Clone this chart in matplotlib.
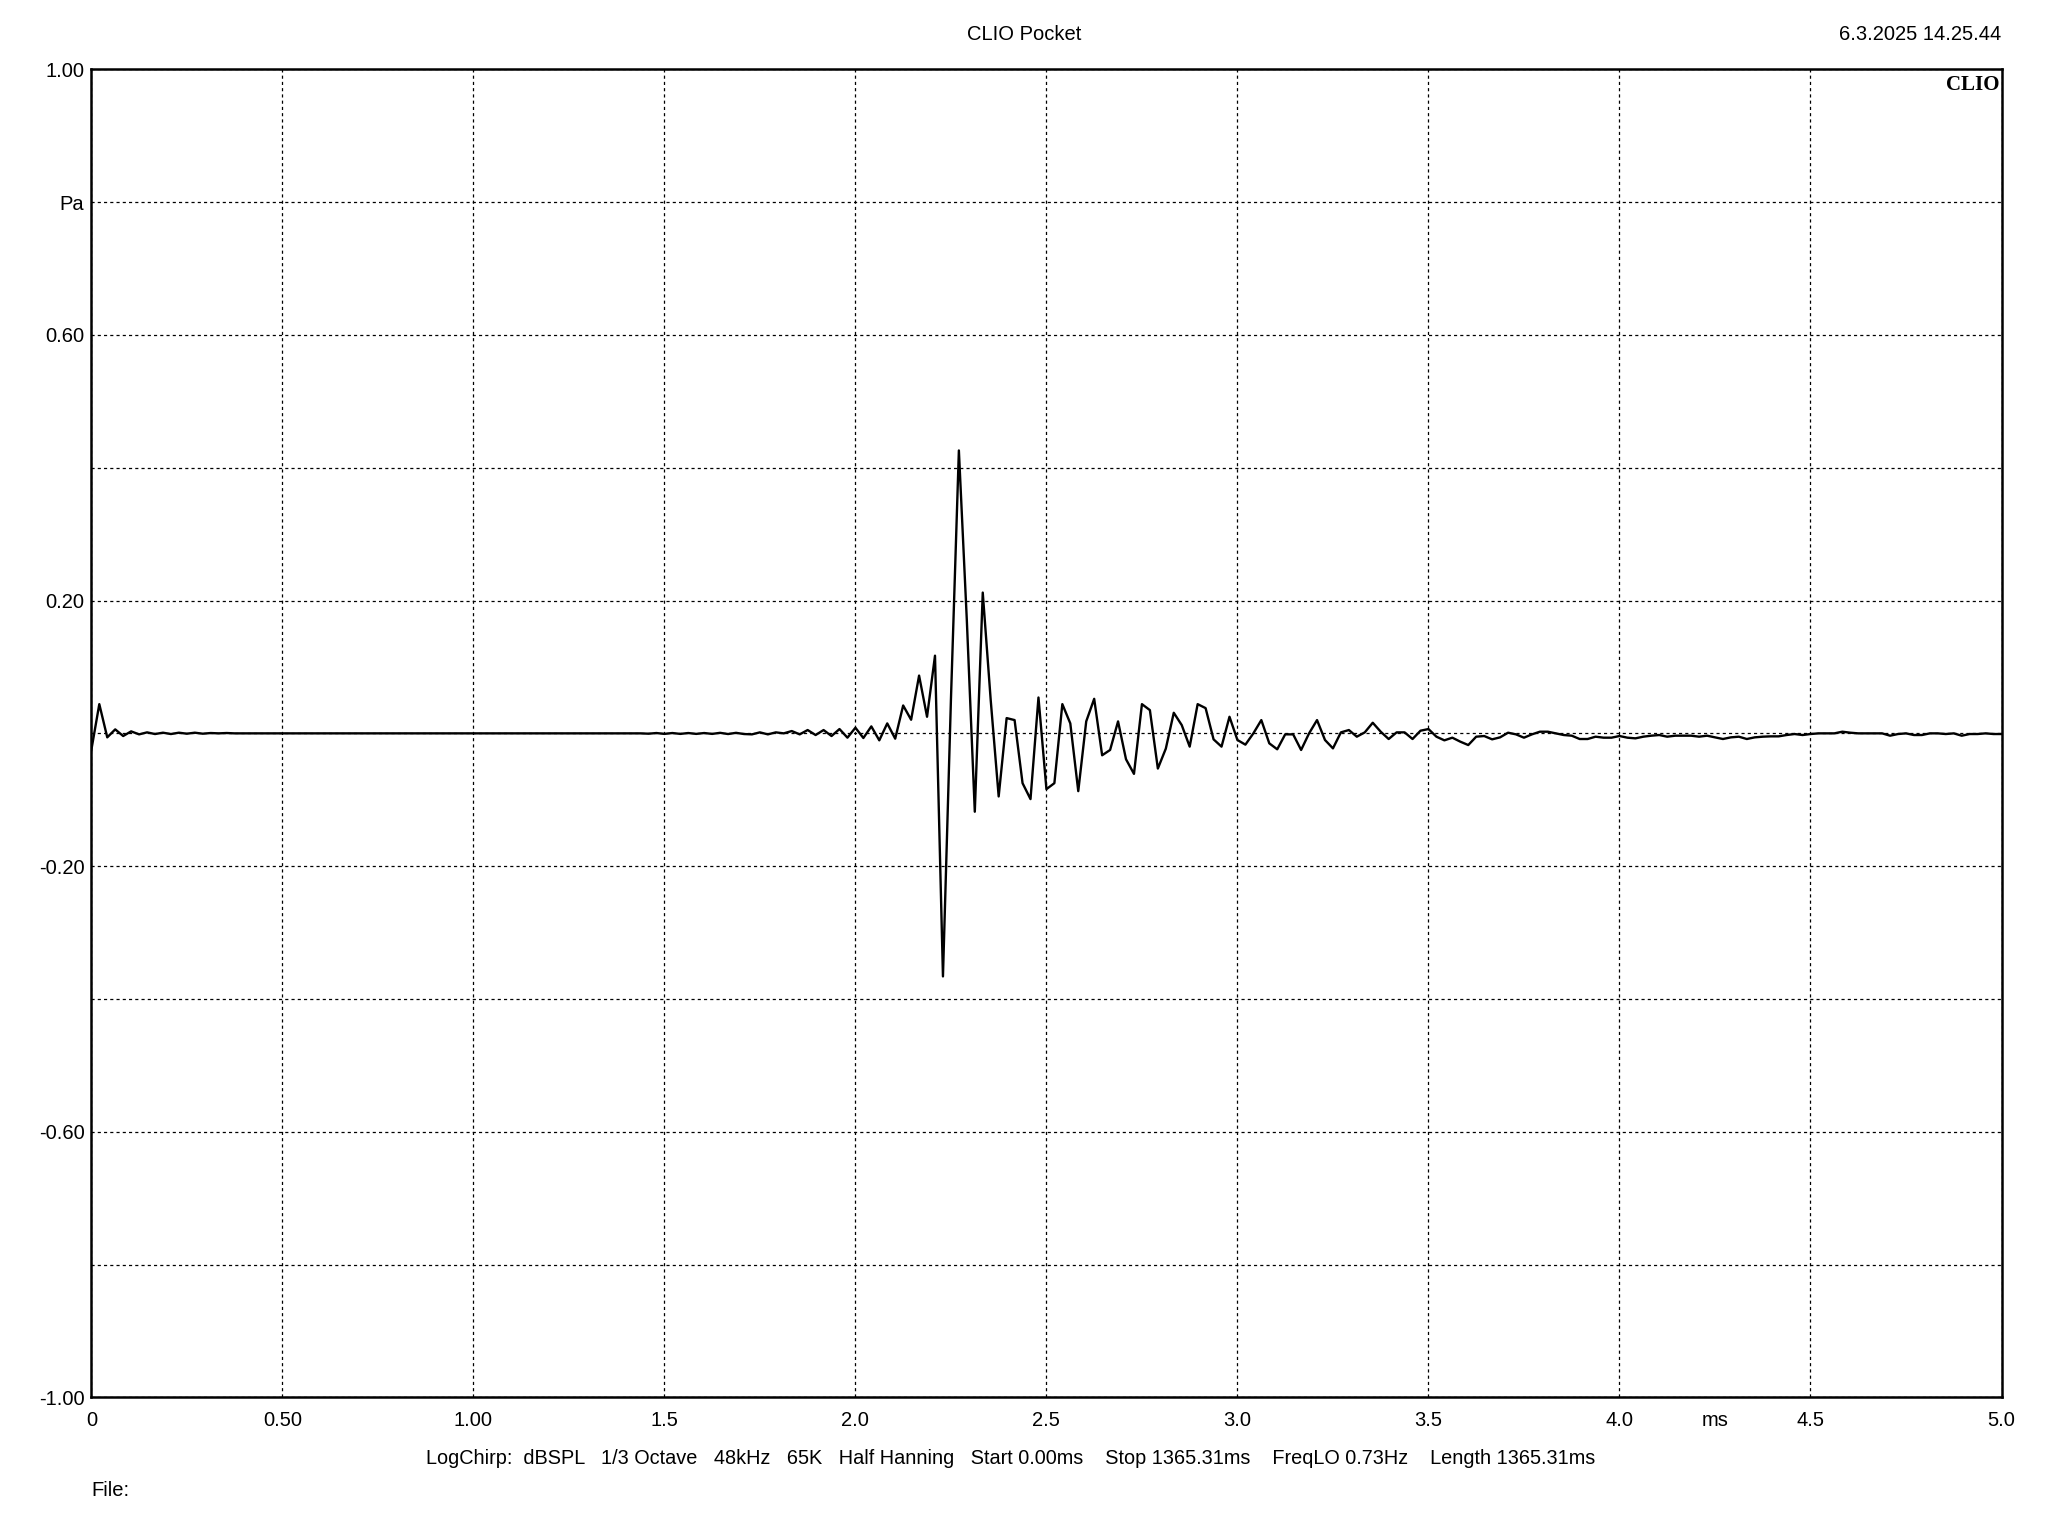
import numpy as np
import matplotlib
matplotlib.use("Agg")
import matplotlib.pyplot as plt

# impulse response, one value per sample at 48 kHz (Pa)
sample_rate_khz = 48.0
pressure = [
    -0.025, 0.044, -0.006, 0.006, -0.004, 0.003, -0.0015, 0.0015, -0.001, 0.001,
    -0.001, 0.001, -0.0005, 0.001, -0.0005, 0.0005, 0.0, 0.0005, 0.0, 0.0,
    0.0, 0.0, 0.0, 0.0, 0.0, 0.0, 0.0, 0.0, 0.0, 0.0,
    0.0, 0.0, 0.0, 0.0, 0.0, 0.0, 0.0, 0.0, 0.0, 0.0,
    0.0, 0.0, 0.0, 0.0, 0.0, 0.0, 0.0, 0.0, 0.0, 0.0,
    0.0, 0.0, 0.0, 0.0, 0.0, 0.0, 0.0, 0.0, 0.0, 0.0,
    0.0, 0.0, 0.0, 0.0, 0.0, 0.0, 0.0, 0.0, 0.0, 0.0,
    -0.0005, 0.0005, -0.0008, 0.0005, -0.0008, 0.0005, -0.0008, 0.0005, -0.0008, 0.0008,
    -0.001, 0.0008, -0.001, -0.0015, 0.0015, -0.0015, 0.0015, 0.0, 0.0035, -0.0015,
    0.005, -0.0025, 0.005, -0.004, 0.0065, -0.0065, 0.0085, -0.007, 0.0105, -0.0105,
    0.015, -0.008, 0.042, 0.0205, 0.087, 0.025, 0.117, -0.366, 0.05, 0.426,
    0.17, -0.118, 0.212, 0.05, -0.095, 0.023, 0.02, -0.075, -0.099, 0.054,
    -0.084, -0.075, 0.044, 0.015, -0.087, 0.018, 0.052, -0.033, -0.025, 0.018,
    -0.039, -0.061, 0.044, 0.035, -0.053, -0.023, 0.031, 0.0125, -0.020, 0.044,
    0.038, -0.009, -0.020, 0.025, -0.010, -0.017, 0.0, 0.020, -0.015, -0.024,
    -0.0015, -0.0015, -0.025, 0.0, 0.020, -0.010, -0.0226, 0.0015, 0.005, -0.005,
    0.0015, 0.016, 0.0025, -0.0085, 0.0015, 0.0015, -0.0085, 0.004, 0.0065, -0.005,
    -0.0105, -0.0065, -0.0125, -0.0176, -0.005, -0.004, -0.009, -0.006, 0.001, -0.0015,
    -0.0065, -0.0015, 0.0025, 0.0025, 0.0, -0.0025, -0.0035, -0.0085, -0.0085, -0.005,
    -0.0065, -0.0065, -0.004, -0.0065, -0.0075, -0.005, -0.0035, -0.0025, -0.005, -0.0035,
    -0.0035, -0.0035, -0.005, -0.0035, -0.006, -0.0085, -0.006, -0.005, -0.0085, -0.006,
    -0.005, -0.0045, -0.0045, -0.0025, -0.001, -0.0025, -0.001, 0.0, 0.0, 0.0,
    0.0025, 0.001, 0.0, 0.0, 0.0, 0.0, -0.0035, -0.001, 0.0, -0.0025,
    -0.0025, 0.0, 0.0, -0.001, 0.0, -0.0035, -0.001, -0.001, 0.0, -0.001,
    -0.001,
]

x_ticks = [0, 0.5, 1.0, 1.5, 2.0, 2.5, 3.0, 3.5, 4.0, 4.5, 5.0]
x_labels = ["0", "0.50", "1.00", "1.5", "2.0", "2.5", "3.0", "3.5", "4.0", "4.5", "5.0"]
y_ticks = [-1.0, -0.8, -0.6, -0.4, -0.2, 0.0, 0.2, 0.4, 0.6, 0.8, 1.0]
y_labels = ["-1.00", "", "-0.60", "", "-0.20", "", "0.20", "", "0.60", "Pa", "1.00"]

title = "CLIO Pocket"
stamp = "6.3.2025 14.25.44"
settings = ("LogChirp:  dBSPL   1/3 Octave   48kHz   65K   Half Hanning   "
            "Start 0.00ms    Stop 1365.31ms    FreqLO 0.73Hz    Length 1365.31ms")

plt.rcParams['font.family'] = ['Liberation Sans', 'DejaVu Sans']
fs = 14.5

fig = plt.figure(figsize=(20.48, 15.36), dpi=100)
ax = fig.add_axes([0.0446, 0.0902, 0.9327, 0.8647])

t = np.arange(len(pressure)) / sample_rate_khz
ax.plot(t, pressure, color="black", lw=1.7, zorder=3)

ax.set_xlim(0, 5.0)
ax.set_ylim(-1.0, 1.0)
ax.set_xticks(x_ticks)
ax.set_xticklabels(x_labels)
ax.set_yticks(y_ticks)
ax.set_yticklabels(y_labels)
ax.tick_params(axis="both", length=0, labelsize=fs, colors="black")
ax.tick_params(axis="x", pad=10)
ax.tick_params(axis="y", pad=5)

ax.grid(True, color="black", lw=0.9, linestyle=(0, (2.5, 2.5)))
for s in ax.spines.values():
    s.set_linewidth(1.8)
    s.set_color("black")

# unit label sits among the x tick labels
ax.annotate("ms", xy=(4.25, -1.0), xycoords="data", xytext=(0, -10),
            textcoords="offset points", ha="center", va="top", fontsize=fs)

ax.text(0.999, 0.996, "CLIO", transform=ax.transAxes, ha="right", va="top",
        fontsize=15, fontweight="bold", family=["Liberation Serif", "DejaVu Serif"])

fig.text(0.5, 1 - 35 / 1536, title, ha="center", va="center", fontsize=fs)
fig.text(2001 / 2048, 1 - 35 / 1536, stamp, ha="right", va="center", fontsize=fs)
fig.text(1011 / 2048, 1 - 1458 / 1536, settings, ha="center", va="center", fontsize=14.3)
fig.text(91 / 2048, 1 - 1491 / 1536, "File:", ha="left", va="center", fontsize=fs)

fig.savefig("out.png", dpi=100, facecolor="white")
